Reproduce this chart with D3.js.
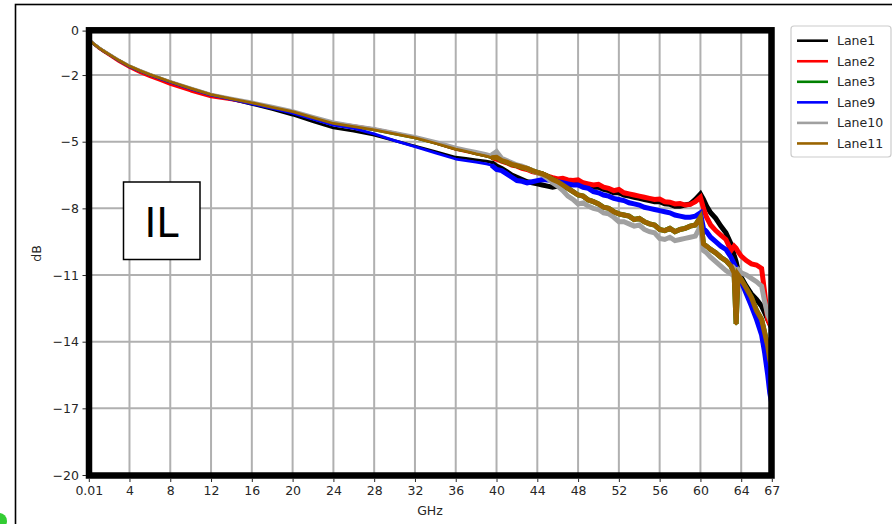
<!DOCTYPE html>
<html><head><meta charset="utf-8">
<script src="https://cdn.jsdelivr.net/npm/d3@7"></script>
<style>body{margin:0;background:#fff}svg{display:block}text{font-family:"DejaVu Sans",sans-serif}</style>
</head><body><svg id="c" width="892" height="524"></svg>
<script>
const freqs = [0.01,0.5,1,1.5,2,3,4,5,6,7,8,
  10,12,14,16,18,20,22,24,26,28,30,32,34,36,
  37,38,39,39.5,
  40,40.5,41,41.5,42,42.5,43,43.5,44,44.5,
  45,45.5,46,46.5,47,47.5,48,48.5,49,49.5,
  50,50.5,51,51.5,52,52.5,53,53.5,54,54.5,
  55,55.5,56,56.5,57,57.5,58,58.5,59,59.5,
  60,60.3,60.6,61,61.5,62,62.5,63,63.3,63.5,63.7,
  64,64.5,65,65.5,66,66.3,66.6,66.8,67];
const lane1 = [-0.40,-0.60,-0.78,-0.93,-1.07,-1.36,-1.62,-1.82,-2.00,-2.16,-2.32,
  -2.62,-2.90,-3.10,-3.32,-3.55,-3.80,-4.10,-4.38,-4.52,-4.70,-4.95,-5.20,-5.45,-5.70,
  -5.75,-5.82,-5.88,-5.92,
  -6.10,-6.20,-6.35,-6.50,-6.60,-6.70,-6.80,-6.85,-6.90,-6.95,
  -7.00,-7.05,-7.00,-7.10,-7.00,-6.90,-6.85,-6.95,-7.00,-7.05,
  -7.05,-7.15,-7.20,-7.30,-7.30,-7.40,-7.45,-7.50,-7.55,-7.60,
  -7.65,-7.70,-7.70,-7.80,-7.82,-7.90,-7.90,-7.85,-7.80,-7.60,
  -7.35,-7.60,-7.90,-8.20,-8.45,-8.80,-9.10,-9.60,-10.10,-10.40,-10.80,
  -11.10,-11.50,-11.85,-12.10,-12.40,-12.70,-13.00,-13.20,-13.40];
const lane2 = [-0.40,-0.60,-0.80,-0.95,-1.10,-1.40,-1.66,-1.88,-2.07,-2.24,-2.42,
  -2.72,-2.98,-3.12,-3.28,-3.45,-3.65,-3.90,-4.15,-4.28,-4.42,-4.60,-4.80,-5.07,-5.35,
  -5.45,-5.55,-5.65,-5.70,
  -5.78,-5.88,-5.95,-6.05,-6.10,-6.20,-6.25,-6.35,-6.40,-6.45,
  -6.55,-6.62,-6.68,-6.65,-6.72,-6.75,-6.72,-6.85,-6.90,-6.95,
  -6.92,-7.05,-7.10,-7.20,-7.15,-7.30,-7.35,-7.40,-7.45,-7.50,
  -7.55,-7.60,-7.58,-7.70,-7.72,-7.80,-7.78,-7.85,-7.82,-7.70,
  -7.50,-8.00,-8.40,-8.75,-9.00,-9.20,-9.40,-9.90,-9.70,-9.80,-9.95,
  -10.15,-10.35,-10.50,-10.55,-10.70,-11.80,-13.00,-13.20,-13.30];
const lane3 = [-0.40,-0.60,-0.78,-0.93,-1.07,-1.35,-1.60,-1.80,-1.98,-2.14,-2.30,
  -2.60,-2.88,-3.07,-3.25,-3.45,-3.65,-3.92,-4.18,-4.32,-4.47,-4.65,-4.83,-5.07,-5.33,
  -5.43,-5.55,-5.65,-5.72,
  -5.70,-5.85,-5.92,-6.02,-6.08,-6.15,-6.20,-6.30,-6.38,-6.45,
  -6.55,-6.70,-6.80,-6.95,-7.10,-7.25,-7.40,-7.45,-7.62,-7.70,
  -7.80,-7.95,-8.00,-8.15,-8.25,-8.30,-8.35,-8.50,-8.45,-8.60,
  -8.70,-8.75,-8.95,-9.00,-8.90,-9.05,-8.95,-8.90,-8.80,-8.75,
  -8.40,-9.60,-9.70,-9.85,-10.00,-10.20,-10.35,-10.60,-10.90,-13.20,-11.00,
  -11.20,-11.60,-12.00,-12.60,-13.00,-13.60,-14.20,-14.80,-15.20];
const lane9 = [-0.40,-0.60,-0.78,-0.93,-1.07,-1.36,-1.62,-1.82,-2.00,-2.16,-2.32,
  -2.62,-2.90,-3.10,-3.30,-3.50,-3.72,-3.98,-4.25,-4.40,-4.65,-4.95,-5.22,-5.50,-5.78,
  -5.85,-5.92,-6.00,-6.05,
  -6.25,-6.30,-6.45,-6.60,-6.75,-6.78,-6.85,-6.80,-6.75,-6.70,
  -6.72,-6.75,-6.80,-6.85,-6.90,-6.95,-6.95,-7.05,-7.10,-7.25,
  -7.30,-7.40,-7.45,-7.55,-7.60,-7.65,-7.75,-7.80,-7.85,-7.95,
  -8.00,-8.05,-8.10,-8.15,-8.20,-8.30,-8.35,-8.40,-8.40,-8.35,
  -8.20,-8.90,-9.05,-9.30,-9.50,-9.70,-9.85,-10.20,-10.50,-10.70,-10.90,
  -11.30,-11.85,-12.40,-13.00,-13.70,-14.50,-15.50,-16.30,-16.80];
const lane10 = [-0.38,-0.58,-0.76,-0.91,-1.05,-1.33,-1.58,-1.78,-1.96,-2.12,-2.28,
  -2.58,-2.86,-3.04,-3.21,-3.40,-3.60,-3.86,-4.11,-4.26,-4.40,-4.58,-4.76,-4.98,-5.24,
  -5.34,-5.44,-5.54,-5.60,
  -5.45,-5.75,-5.85,-5.95,-6.05,-6.10,-6.20,-6.30,-6.40,-6.50,
  -6.65,-6.85,-7.00,-7.20,-7.45,-7.60,-7.80,-7.75,-7.90,-8.00,
  -8.05,-8.20,-8.25,-8.40,-8.60,-8.60,-8.70,-8.80,-8.75,-8.95,
  -9.05,-9.10,-9.35,-9.40,-9.30,-9.45,-9.40,-9.35,-9.30,-9.25,
  -8.80,-9.90,-10.00,-10.20,-10.40,-10.60,-10.80,-10.95,-10.70,-10.80,-10.75,
  -10.90,-11.00,-11.15,-11.30,-11.50,-12.20,-12.80,-13.00,-13.30];
const lane11 = [-0.40,-0.60,-0.78,-0.93,-1.07,-1.35,-1.60,-1.80,-1.98,-2.14,-2.30,
  -2.60,-2.88,-3.07,-3.25,-3.45,-3.65,-3.92,-4.18,-4.32,-4.47,-4.65,-4.83,-5.07,-5.33,
  -5.43,-5.55,-5.65,-5.72,
  -5.70,-5.85,-5.92,-6.02,-6.08,-6.15,-6.20,-6.30,-6.38,-6.45,
  -6.55,-6.70,-6.80,-6.95,-7.10,-7.25,-7.40,-7.45,-7.62,-7.70,
  -7.80,-7.95,-8.00,-8.15,-8.25,-8.30,-8.35,-8.50,-8.45,-8.60,
  -8.70,-8.75,-8.95,-9.00,-8.90,-9.05,-8.95,-8.90,-8.80,-8.75,
  -8.40,-9.60,-9.70,-9.85,-10.00,-10.20,-10.35,-10.60,-10.90,-13.20,-11.00,
  -11.20,-11.60,-12.00,-12.60,-13.00,-13.60,-14.20,-14.80,-15.20];

const laneNames = ["Lane1","Lane2","Lane3","Lane9","Lane10","Lane11"];
const laneValues = [lane1,lane2,lane3,lane9,lane10,lane11];
const laneColors = ["#000000","#ff0000","#008000","#0000ff","#a0a0a0","#9a6400"];
const xTicks = [0.01,4,8,12,16,20,24,28,32,36,40,44,48,52,56,60,64,67];
const yTicks = [0,-2,-5,-8,-11,-14,-17,-20];

const svg = d3.select("#c");
const x = d3.scaleLinear().domain([0.01,67]).range([88.8,771.8]);
const y = d3.scaleLinear().domain([-20,0]).range([475,30.6]);
const X0 = 89, X1 = 771.5, Y0 = 30.3, Y1 = 475.5;

// outer figure frame
svg.append("rect").attr("x",15.5).attr("y",4.5).attr("width",1000).attr("height",1000)
  .attr("fill","none").attr("stroke","#000").attr("stroke-width",1.6);
svg.append("circle").attr("cx",-1).attr("cy",521).attr("r",8).attr("fill","#33cc33");

// grid
const grid = svg.append("g");
grid.selectAll("line.v").data(xTicks).join("line").attr("class","v")
  .attr("x1",d=>x(d)).attr("x2",d=>x(d)).attr("y1",Y0).attr("y2",Y1)
  .attr("stroke","#b0b0b0").attr("stroke-width",2);
grid.selectAll("line.h").data(yTicks).join("line").attr("class","h")
  .attr("y1",d=>y(d)).attr("y2",d=>y(d)).attr("x1",X0).attr("x2",X1)
  .attr("stroke","#b0b0b0").attr("stroke-width",2);

// IL box
svg.append("rect").attr("x",123.5).attr("y",182).attr("width",76.5).attr("height",77.5)
  .attr("fill","#fff").attr("stroke","#000").attr("stroke-width",1.5);
svg.append("text").attr("x",161.5).attr("y",237).attr("text-anchor","middle")
  .attr("font-size",40).attr("fill","#000").text("IL");

// curves
svg.append("clipPath").attr("id","clip").append("rect")
  .attr("x",X0).attr("y",Y0).attr("width",X1-X0).attr("height",Y1-Y0);
const line = d3.line().x(d=>x(d[0])).y(d=>y(d[1]));
const curves = svg.append("g").attr("clip-path","url(#clip)");
laneValues.forEach((vals,i)=>{
  const pts = freqs.map((f,j)=>[f,vals[j]]);
  curves.append("path").datum(pts)
    .attr("d",line).attr("fill","none").attr("stroke",laneColors[i])
    .attr("stroke-width",2.8).attr("stroke-linejoin","round");
  // measured data above ~40 GHz is noisy: drawn as a wider band
  curves.append("path").datum(pts.filter(p=>p[0]>=39.5))
    .attr("d",line).attr("fill","none").attr("stroke",laneColors[i])
    .attr("stroke-width",5).attr("stroke-linejoin","miter");
});

// frame
svg.append("rect").attr("x",X0).attr("y",Y0).attr("width",X1-X0).attr("height",Y1-Y0)
  .attr("fill","none").attr("stroke","#000").attr("stroke-width",6.5);

// axes
const fmt = d => (d<0? "\u2212"+Math.abs(d) : String(d));
const xAxis = svg.append("g").attr("transform",`translate(0,${Y1+3})`)
  .call(d3.axisBottom(x).tickValues(xTicks).tickFormat(fmt).tickSize(3.5).tickPadding(4));
const yAxis = svg.append("g").attr("transform",`translate(${X0-3},0)`)
  .call(d3.axisLeft(y).tickValues(yTicks).tickFormat(fmt).tickSize(3.5).tickPadding(3.5));
[xAxis,yAxis].forEach(a=>{
  a.select(".domain").remove();
  a.selectAll("text").attr("font-size",12.5).attr("fill","#262626").attr("font-family","DejaVu Sans, sans-serif");
  a.selectAll("line").attr("stroke","#262626");
});

svg.append("text").attr("x",430).attr("y",515).attr("text-anchor","middle")
  .attr("font-size",12.5).attr("fill","#262626").text("GHz");
svg.append("text").attr("transform","translate(41,253.5) rotate(-90)").attr("text-anchor","middle")
  .attr("font-size",12.5).attr("fill","#262626").text("dB");

// legend
const lg = svg.append("g");
lg.append("rect").attr("x",791).attr("y",26).attr("width",100).attr("height",131).attr("rx",3)
  .attr("fill","#fff").attr("stroke","#cccccc").attr("stroke-width",1.2);
laneNames.forEach((n,i)=>{
  const cy = 40.7 + i*20.55;
  lg.append("line").attr("x1",797).attr("x2",828).attr("y1",cy).attr("y2",cy)
    .attr("stroke",laneColors[i]).attr("stroke-width",2.6);
  lg.append("text").attr("x",837).attr("y",cy+4.5).attr("font-size",12.5)
    .attr("fill","#262626").text(n);
});
</script></body></html>
